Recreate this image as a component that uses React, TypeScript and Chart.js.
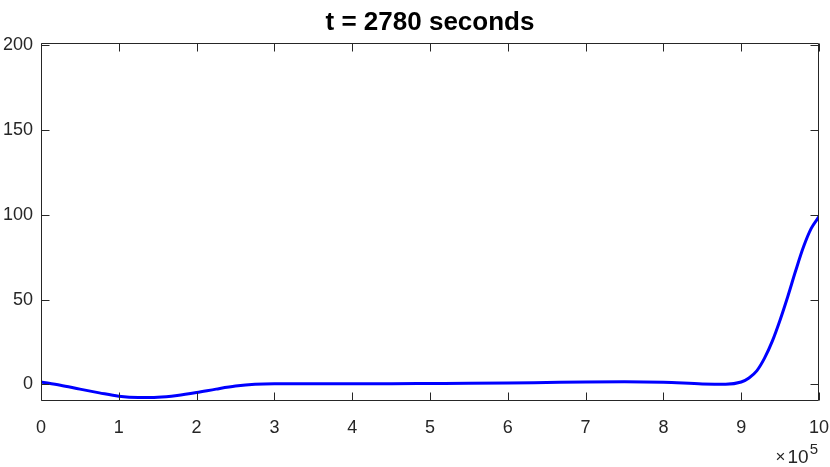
import React, { useEffect, useRef } from "react";
import { Chart, registerables } from "chart.js";

Chart.register(...registerables);

// x in units of 1e5
const xValues = [0, 0.25, 0.5, 0.75, 1.0, 1.25, 1.5, 1.75, 2.0, 2.25, 2.5, 2.75, 3, 3.5, 4, 4.5, 5, 5.5, 6, 6.5, 7, 7.5, 8, 8.5, 8.8, 9.0, 9.1, 9.2, 9.3, 9.4, 9.5, 9.6, 9.7, 9.8, 9.9, 10];
const yValues = [1.4, -0.5, -2.8, -5, -7, -7.8, -7.6, -6.5, -4.8, -2.8, -1.0, 0.1, 0.4, 0.4, 0.4, 0.4, 0.5, 0.6, 0.8, 1.1, 1.4, 1.5, 1.2, 0.3, 0.1, 1.4, 3.8, 8, 15.5, 25.5, 38, 52, 67, 81, 92, 99];
const xTicks = [0, 1, 2, 3, 4, 5, 6, 7, 8, 9, 10];
const yTicks = [0, 50, 100, 150, 200];
const titleText = "t = 2780 seconds";
const xExponent = "5";
const yMin = -9.8;
const yMax = 201.4;

const FONT = "'Liberation Sans', Arial, Helvetica, sans-serif";
const AXIS_COLOR = "#262626";

export default function App() {
  const ref = useRef<HTMLCanvasElement>(null);

  useEffect(() => {
    document.body.style.margin = "0";
    const framePlugin = {
      id: "frame",
      afterDraw(chart: any) {
        const { ctx, chartArea: a, scales } = chart;
        const x = scales.x;
        const y = scales.y;
        ctx.save();
        ctx.strokeStyle = AXIS_COLOR;
        ctx.lineWidth = 1;
        const L = Math.round(a.left) + 0.5;
        const R = Math.round(a.right) - 0.5;
        const T = Math.round(a.top) + 0.5;
        const B = Math.round(a.bottom) - 0.5;
        ctx.beginPath();
        ctx.rect(L, T, R - L, B - T);
        ctx.stroke();
        const tl = 8;
        ctx.beginPath();
        for (const v of xTicks) {
          const px = Math.round(x.getPixelForValue(v)) + 0.5;
          ctx.moveTo(px, B);
          ctx.lineTo(px, B - tl);
          ctx.moveTo(px, T);
          ctx.lineTo(px, T + tl);
        }
        for (const v of yTicks) {
          const py = Math.round(y.getPixelForValue(v)) + 0.5;
          ctx.moveTo(L, py);
          ctx.lineTo(L + tl, py);
          ctx.moveTo(R, py);
          ctx.lineTo(R - tl, py);
        }
        ctx.stroke();

        // title
        ctx.fillStyle = "#000000";
        ctx.font = `bold 26px ${FONT}`;
        ctx.textAlign = "center";
        ctx.textBaseline = "alphabetic";
        ctx.fillText(titleText, (a.left + a.right) / 2, 30);

        // exponent label "×10^5"
        ctx.fillStyle = AXIS_COLOR;
        ctx.textAlign = "right";
        const rightEdge = a.right - 1;
        ctx.font = `15px ${FONT}`;
        const supW = ctx.measureText(xExponent).width;
        ctx.fillText(xExponent, rightEdge, 454);
        ctx.font = `19px ${FONT}`;
        const tenRight = rightEdge - supW - 1;
        const tenW = ctx.measureText("10").width;
        ctx.fillText("10", tenRight, 463);
        ctx.font = `17px ${FONT}`;
        ctx.fillText("\u00d7", tenRight - tenW - 2, 462);
        ctx.restore();
      },
    };

    const chart = new Chart(ref.current as HTMLCanvasElement, {
      type: "line",
      data: {
        datasets: [
          {
            data: xValues.map((xv, i) => ({ x: xv, y: yValues[i] })),
            borderColor: "#0000ff",
            borderWidth: 3,
            pointRadius: 0,
            cubicInterpolationMode: "monotone",
            fill: false,
          },
        ],
      },
      options: {
        responsive: false,
        animation: false,
        layout: { padding: { left: 0, right: 11, top: 43, bottom: 0 } },
        plugins: {
          legend: { display: false },
          tooltip: { enabled: false },
          title: { display: false },
        },
        scales: {
          x: {
            type: "linear",
            min: 0,
            max: 10,
            grid: { display: false, drawTicks: false },
            border: { display: false },
            ticks: {
              color: AXIS_COLOR,
              font: { family: FONT, size: 18 },
              padding: 16,
              maxRotation: 0,
              autoSkip: false,
            },
            afterBuildTicks: (s: any) => {
              s.ticks = xTicks.map((v) => ({ value: v }));
            },
            afterFit: (s: any) => {
              s.height = 66;
              s.paddingLeft = 0;
              s.paddingRight = 0;
            },
          },
          y: {
            type: "linear",
            min: yMin,
            max: yMax,
            grid: { display: false, drawTicks: false },
            border: { display: false },
            ticks: {
              color: AXIS_COLOR,
              font: { family: FONT, size: 18 },
              padding: 8,
              autoSkip: false,
            },
            afterBuildTicks: (s: any) => {
              s.ticks = yTicks.map((v) => ({ value: v }));
            },
            afterFit: (s: any) => {
              s.width = 41;
              s.paddingTop = 0;
              s.paddingBottom = 0;
            },
          },
        },
      },
      plugins: [framePlugin],
    });
    return () => chart.destroy();
  }, []);

  return (
    <canvas
      ref={ref}
      width={830}
      height={467}
      style={{ position: "absolute", left: 0, top: 0, width: 830, height: 467 }}
    />
  );
}
